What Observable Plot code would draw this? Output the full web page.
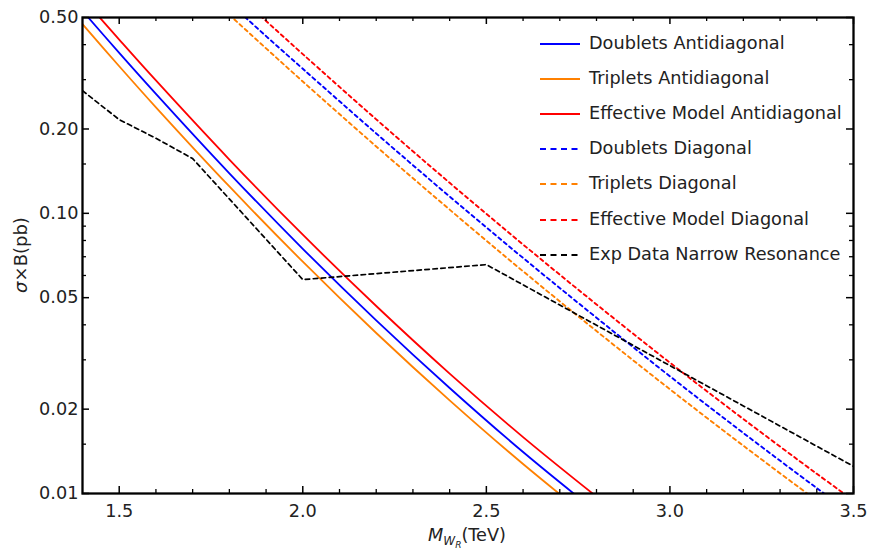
<!DOCTYPE html>
<html>
<head>
<meta charset="utf-8">
<script src="https://cdn.jsdelivr.net/npm/d3@7"></script>
<script src="https://cdn.jsdelivr.net/npm/@observablehq/plot@0.6"></script>
<style>
  html, body { margin: 0; padding: 0; background: #fff; }
  #wrap { position: relative; width: 869px; height: 549px; font-family: "DejaVu Sans", sans-serif; color: #222; }
  .leg { position: absolute; left: 540px; font-size: 17.7px; }
  .leg .row { position: absolute; left: 0; height: 20px; white-space: nowrap; }
  .leg svg { position: absolute; left: 0; top: 9px; }
  .leg span { position: absolute; left: 49px; top: 0; line-height: 20px; }
  .xl { position: absolute; left: 428px; top: 525px; font-size: 17.7px; white-space: nowrap; }
  .yl { position: absolute; left: 20px; top: 255px; font-size: 18px; white-space: nowrap; transform: translate(-50%, -50%) rotate(-90deg); }
</style>
</head>
<body>
<div id="wrap"></div>
<script>
// ---- data ----
const antiX = [1.4, 1.5, 1.6, 1.8, 2.0, 2.2, 2.4, 2.6, 2.8];
const doubletsAnti  = [0.528, 0.374, 0.267, 0.139, 0.0747, 0.0415, 0.0238, 0.01406, 0.0086];
const tripletsAnti  = [0.4735, 0.335, 0.239, 0.1247, 0.0672, 0.0374, 0.0215, 0.01274, 0.0078];
const effectiveAnti = [0.587, 0.417, 0.298, 0.1556, 0.0839, 0.0467, 0.0268, 0.0159, 0.00975];

const diagX = [1.8, 1.9, 2.0, 2.2, 2.4, 2.6, 2.8, 3.0, 3.2, 3.4, 3.5];
const doubletsDiag  = [0.564, 0.429, 0.328, 0.1928, 0.1148, 0.0693, 0.0424, 0.0262, 0.01644, 0.01045, 0.00836];
const tripletsDiag  = [0.511, 0.388, 0.2955, 0.1733, 0.1031, 0.0621, 0.0380, 0.02355, 0.01481, 0.00944, 0.0076];
const effectiveDiag = [0.642, 0.486, 0.370, 0.2165, 0.1285, 0.0774, 0.0473, 0.0293, 0.01844, 0.01176, 0.00945];

const expX = [1.4, 1.5, 1.6, 1.7, 2.0, 2.5, 3.0, 3.5];
const expData = [0.274, 0.216, 0.1853, 0.1568, 0.058, 0.0656, 0.0286, 0.0125];

const xMajorTicks = [1.5, 2.0, 2.5, 3.0, 3.5];
const xMinorTicks = [1.6, 1.7, 1.8, 1.9, 2.1, 2.2, 2.3, 2.4, 2.6, 2.7, 2.8, 2.9, 3.1, 3.2, 3.3, 3.4];
const yMajorTicks = [0.01, 0.02, 0.05, 0.1, 0.2, 0.5];
const yMinorTicks = [0.015, 0.03, 0.04, 0.06, 0.07, 0.08, 0.09, 0.15, 0.3, 0.4];

const seriesNames = ["Doublets Antidiagonal", "Triplets Antidiagonal", "Effective Model Antidiagonal",
  "Doublets Diagonal", "Triplets Diagonal", "Effective Model Diagonal", "Exp Data Narrow Resonance"];
const seriesColors = ["#0000ff", "#ff8000", "#ff0000", "#0000ff", "#ff8000", "#ff0000", "#000000"];
const seriesDash = [null, null, null, "3.5,3.5", "3.5,3.5", "3.5,3.5", "4.5,3.5"];

// ---- build tables ----
const mk = (xs, ys, i) => xs.map((x, k) => ({x, y: ys[k], s: i}));
const series = [
  mk(antiX, doubletsAnti, 0), mk(antiX, tripletsAnti, 1), mk(antiX, effectiveAnti, 2),
  mk(diagX, doubletsDiag, 3), mk(diagX, tripletsDiag, 4), mk(diagX, effectiveDiag, 5),
  mk(expX, expData, 6)
];

const W = 869, H = 549, mL = 82, mR = 16, mT = 17, mB = 56;
const fw = W - mL - mR, fh = H - mT - mB;

const lineMarks = series.map((d, i) => Plot.line(d, {
  x: "x", y: "y",
  stroke: seriesColors[i],
  strokeWidth: i === 6 ? 1.7 : (i >= 3 ? 1.9 : 1.8),
  strokeDasharray: seriesDash[i] || undefined,
  curve: i === 6 ? "linear" : "catmull-rom",
  clip: true
}));

const chart = Plot.plot({
  width: W, height: H,
  marginLeft: mL, marginRight: mR, marginTop: mT, marginBottom: mB,
  x: {domain: [1.4, 3.5]},
  y: {type: "log", domain: [0.01, 0.5]},
  style: {fontFamily: "DejaVu Sans", fontSize: "17.7px", color: "#222", background: "white", overflow: "visible"},
  marks: [
    ...lineMarks,
    // inward ticks
    Plot.tickX(xMajorTicks, {x: d => d, insetTop: fh - 7, stroke: "#000", strokeWidth: 1.5}),
    Plot.tickX(xMajorTicks, {x: d => d, insetBottom: fh - 7, stroke: "#000", strokeWidth: 1.5}),
    Plot.tickX(xMinorTicks, {x: d => d, insetTop: fh - 4, stroke: "#000", strokeWidth: 1.3}),
    Plot.tickX(xMinorTicks, {x: d => d, insetBottom: fh - 4, stroke: "#000", strokeWidth: 1.3}),
    Plot.tickY(yMajorTicks, {y: d => d, insetRight: fw - 7, stroke: "#000", strokeWidth: 1.5}),
    Plot.tickY(yMajorTicks, {y: d => d, insetLeft: fw - 7, stroke: "#000", strokeWidth: 1.5}),
    Plot.tickY(yMinorTicks, {y: d => d, insetRight: fw - 4, stroke: "#000", strokeWidth: 1.3}),
    Plot.tickY(yMinorTicks, {y: d => d, insetLeft: fw - 4, stroke: "#000", strokeWidth: 1.3}),
    Plot.axisX({ticks: xMajorTicks, tickSize: 0, tickPadding: 11, tickFormat: d => d.toFixed(1), label: null, fill: "#222"}),
    Plot.axisY({ticks: yMajorTicks, tickSize: 0, tickPadding: 4, tickFormat: d => d.toFixed(2), label: null, fill: "#222"}),
    Plot.frame({stroke: "#000", strokeWidth: 2.3})
  ]
});

const wrap = document.getElementById("wrap");
wrap.appendChild(chart);

// legend overlay
const leg = document.createElement("div");
leg.className = "leg";
leg.style.top = "0px";
seriesNames.forEach((name, i) => {
  const row = document.createElement("div");
  row.className = "row";
  row.style.top = (33 + i * 35.1) + "px";
  const dash = seriesDash[i] ? `stroke-dasharray="${i === 6 ? '6,4.5' : '6,4.5'}"` : "";
  row.innerHTML = `<svg width="42" height="4"><line x1="0" x2="40" y1="2" y2="2" stroke="${seriesColors[i]}" stroke-width="${i >= 3 ? 2.2 : 2}" ${dash}/></svg><span>${name}</span>`;
  leg.appendChild(row);
});
wrap.appendChild(leg);

// axis titles
const xl = document.createElement("div");
xl.className = "xl";
xl.innerHTML = `<i>M</i><sub style="font-size:12px;vertical-align:-4px"><i>W</i><sub style="font-size:9px;vertical-align:-3px"><i>R</i></sub></sub>(TeV)`;
wrap.appendChild(xl);
const yl = document.createElement("div");
yl.className = "yl";
yl.innerHTML = `<i>σ</i>×B(pb)`;
wrap.appendChild(yl);
</script>
</body>
</html>
